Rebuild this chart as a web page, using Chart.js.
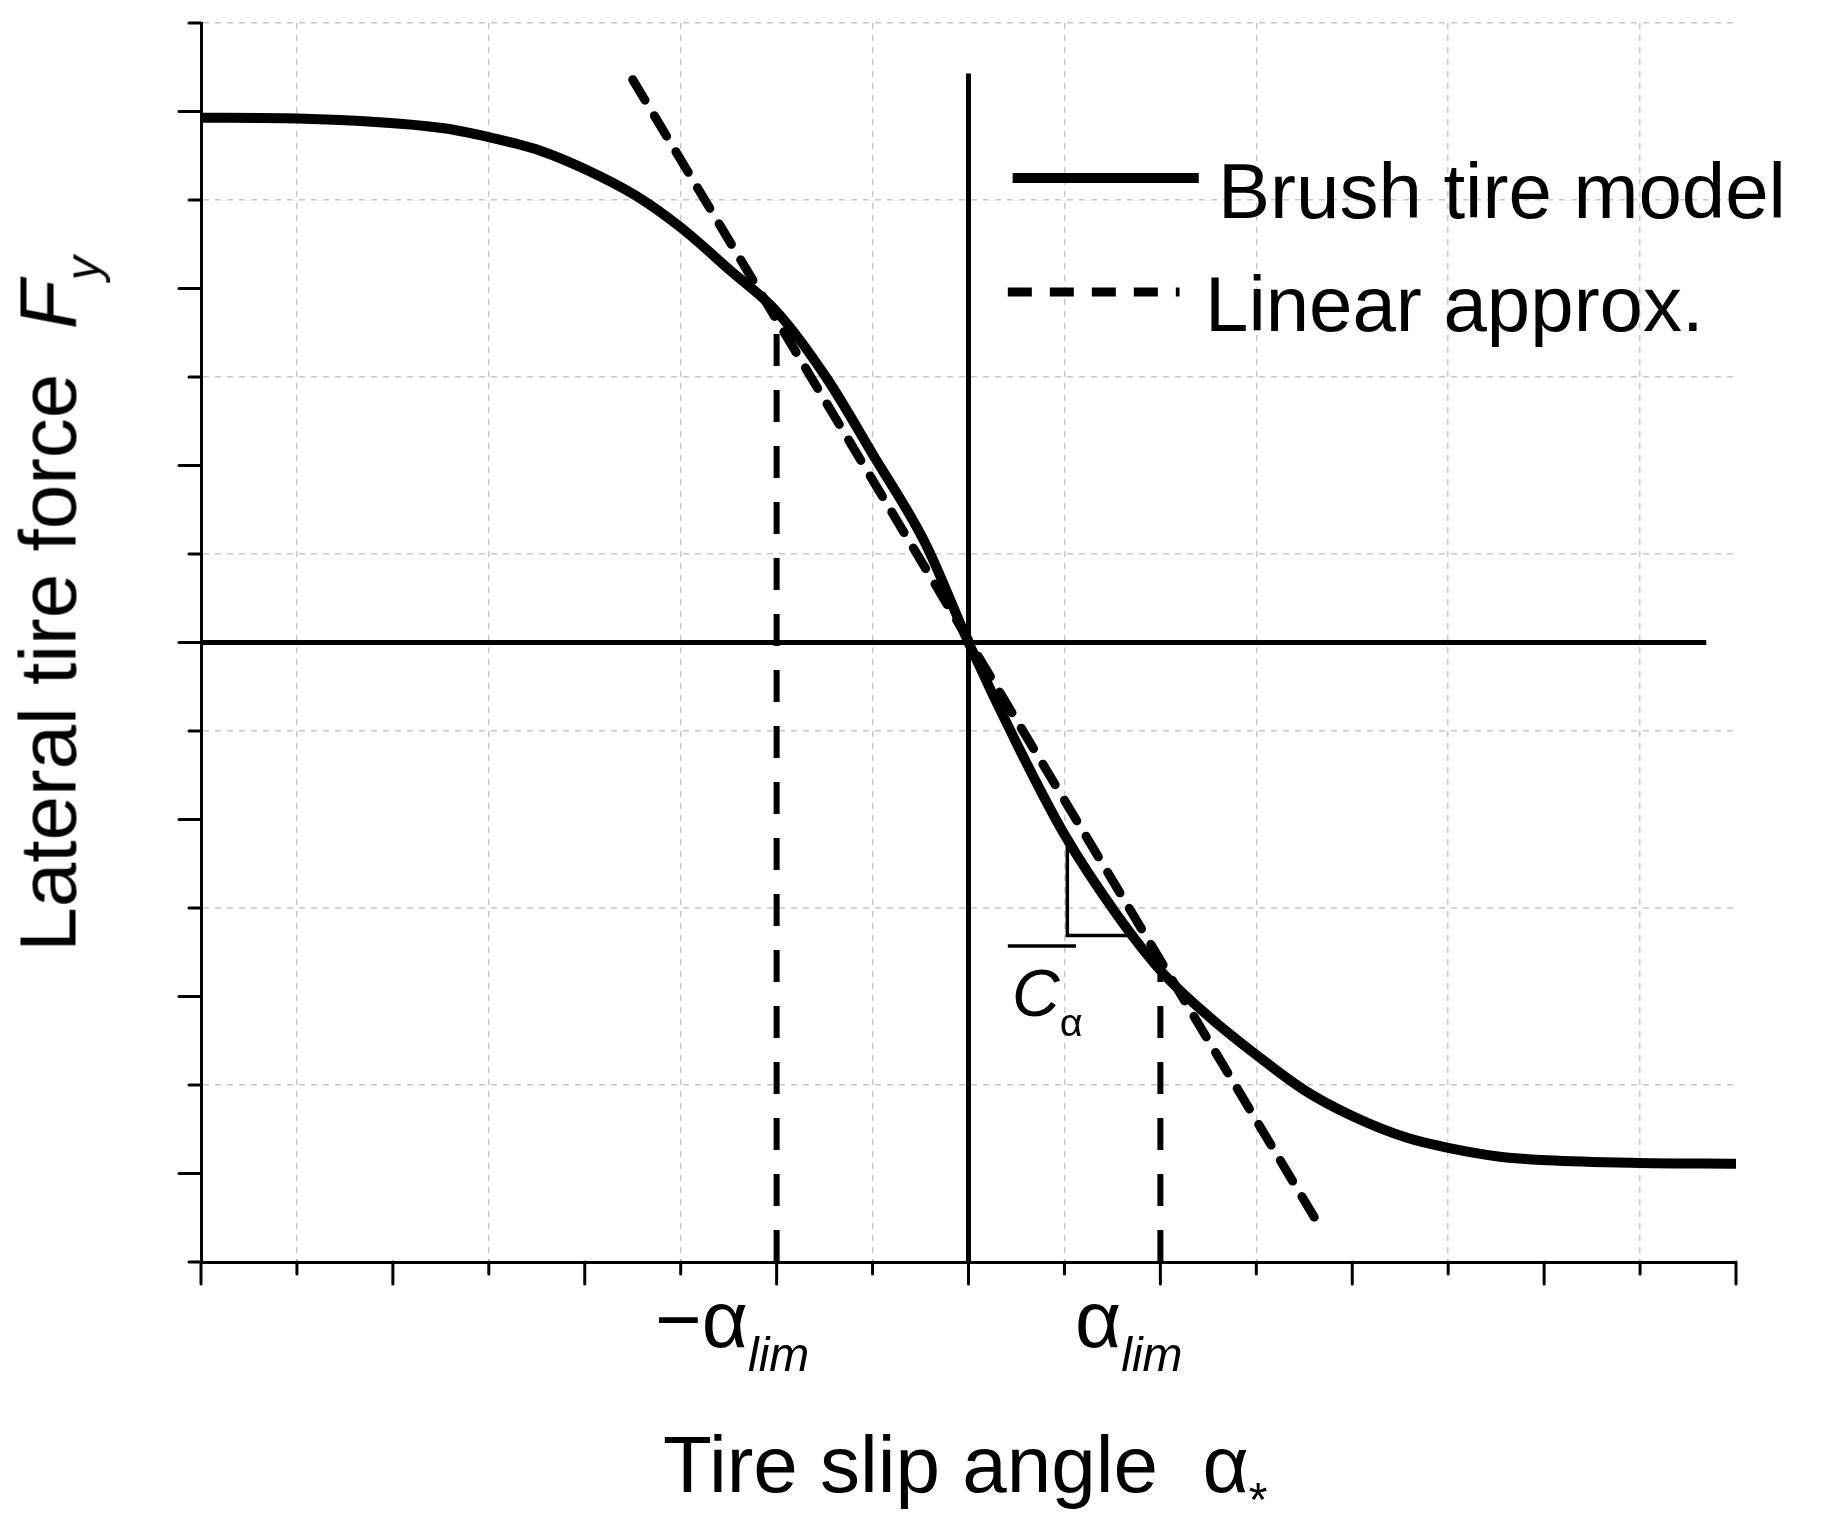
<!DOCTYPE html>
<html><head><meta charset="utf-8">
<script src="https://cdn.jsdelivr.net/npm/chart.js@4.4.1/dist/chart.umd.min.js"></script>
<style>
html,body{margin:0;padding:0;background:#fff;}
#wrap{position:relative;width:1821px;height:1533px;font-family:"Liberation Sans",Arial,sans-serif;color:#000;}
canvas{position:absolute;left:0;top:0;}
.t{position:absolute;white-space:nowrap;line-height:1;}
sub{font-size:0.6em;vertical-align:-0.5em;}
</style></head><body>
<div id="wrap"><canvas id="c" width="1821" height="1533"></canvas>
<div class="t" style="left:655px;top:1280px;font-size:80px;">&minus;&alpha;<sub style="font-style:italic;">lim</sub></div>
<div class="t" style="left:1075px;top:1280px;font-size:80px;">&alpha;<sub style="font-style:italic;">lim</sub></div>
<div class="t" style="left:663px;top:1425px;font-size:80px;">Tire slip angle &nbsp;&alpha;<sub>*</sub></div>
<div class="t" style="left:1012px;top:960px;font-size:66px;font-style:italic;">C<sub style="font-style:normal;">&alpha;</sub></div>
<div class="t" style="left:1218px;top:152px;font-size:78px;">Brush tire model</div>
<div class="t" style="left:1205px;top:265px;font-size:78px;">Linear approx.</div>
<div class="t" id="yt" style="font-size:80px;left:58px;top:604px;transform:translate(-50%,-50%) rotate(-90deg);">Lateral tire force &nbsp;<i>F</i><sub style="font-style:italic;">y</sub></div>
</div>
<script>
const brushX=[-8,-7,-5.47,-5,-4.47,-4,-3.47,-3,-2.48,-2,-1.48,-1,-0.45,0,0.52,1,1.55,2.03,2.52,3,3.49,4,4.58,5,5.54,6.03,7,8];
const brushY=[5.93,5.92,5.81,5.71,5.56,5.35,5.05,4.69,4.2,3.74,2.99,2.13,1.12,0,-1.18,-2.17,-3.08,-3.74,-4.24,-4.66,-5.05,-5.35,-5.6,-5.71,-5.81,-5.85,-5.88,-5.89];
const linX=[-3.5,3.63];
const linY=[6.36,-6.54];
const limX=[-2,2];
const limTopY=[3.74,-3.74];
const triX=[1.03,1.03,1.73];
const triY=[-2.23,-3.31,-3.31];
const legendY=[5.25,3.96];
const pts=(xs,ys)=>xs.map((x,i)=>({x,y:ys[i]}));
const common={pointRadius:0,fill:false,borderColor:'#000',tension:0};
const ds=[
 {...common,data:pts(brushX,brushY),borderWidth:10,cubicInterpolationMode:'monotone'},
 {...common,data:pts(linX,linY),borderWidth:9,borderDash:[24,18],borderCapStyle:'round'},
 {...common,data:[{x:limX[0],y:-7},{x:limX[0],y:limTopY[0]}],borderWidth:6,borderDash:[32,24]},
 {...common,data:[{x:limX[1],y:-7},{x:limX[1],y:limTopY[1]}],borderWidth:6,borderDash:[32,24]},
 {...common,data:[{x:-8,y:0},{x:7.69,y:0}],borderWidth:5},
 {...common,data:[{x:0,y:-7},{x:0,y:6.43}],borderWidth:5},
 {...common,data:pts(triX,triY),borderWidth:3.5},
 {...common,data:[{x:0.41,y:-3.43},{x:1.12,y:-3.43}],borderWidth:3.5},
 {...common,data:[{x:0.46,y:legendY[0]},{x:2.4,y:legendY[0]}],borderWidth:10},
 {...common,data:[{x:0.41,y:legendY[1]},{x:2.2,y:legendY[1]}],borderWidth:9,borderDash:[24,18]}
];
const tickPlugin={id:'ticks',afterDraw(ch){
 const c=ch.ctx,xs=ch.scales.x,ys=ch.scales.y;c.save();c.strokeStyle='#000';c.lineWidth=3;c.lineCap='round';
 for(let v=-8;v<=8;v++){const p=xs.getPixelForValue(v);const L=(v%2===0)?22:12;c.beginPath();c.moveTo(p,ys.bottom);c.lineTo(p,ys.bottom+L);c.stroke();}
 for(let v=-7;v<=7;v++){const p=ys.getPixelForValue(v);const L=(v%2===0)?22:12;c.beginPath();c.moveTo(xs.left,p);c.lineTo(xs.left-L,p);c.stroke();}
 c.restore();}};
const gridCol=ctx=>(Math.abs(ctx.tick.value)%2===1)?'#c8c8c8':'rgba(0,0,0,0)';
new Chart(document.getElementById('c'),{type:'line',data:{datasets:ds},plugins:[tickPlugin],
 options:{responsive:false,animation:false,devicePixelRatio:1,
 layout:{padding:{left:201,right:85,top:23,bottom:271}},
 plugins:{legend:{display:false},tooltip:{enabled:false}},
 scales:{
  x:{type:'linear',min:-8,max:8,ticks:{stepSize:1,display:false},grid:{color:gridCol,lineWidth:1.5,drawTicks:false,tickLength:0},border:{display:true,color:'#000',width:3,dash:[6,6]},
     afterFit(s){s.height=0;}},
  y:{type:'linear',min:-7,max:7,ticks:{stepSize:1,display:false},grid:{color:gridCol,lineWidth:1.5,drawTicks:false,tickLength:0},border:{display:true,color:'#000',width:3,dash:[6,6]},
     afterFit(s){s.width=0;}}
 }}});
</script>
</body></html>
